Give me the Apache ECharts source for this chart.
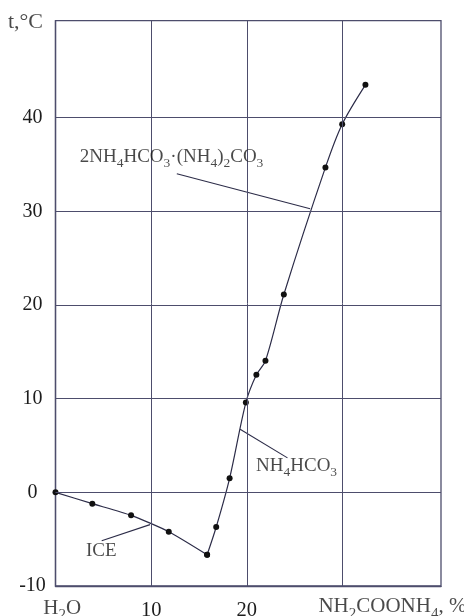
<!DOCTYPE html>
<html>
<head>
<meta charset="utf-8">
<script src="https://cdn.jsdelivr.net/npm/echarts@6/dist/echarts.min.js"></script>
<style>
  html, body { margin: 0; padding: 0; background: #fff; }
  #chart { width: 464px; height: 616px; }
</style>
</head>
<body>
<div id="chart"></div>
<script>
// Liquidus of the H2O – NH2COONH4 system: ice branch and the salt branch
const iceX  = [0, 3.85, 7.9, 11.84, 15.85];
const iceT  = [0, -1.21, -2.46, -4.2, -6.66];
const saltX = [15.85, 16.8, 18.2, 19.9, 21.0, 21.95, 23.87, 28.22, 29.97, 32.4];
const saltT = [-6.66, -3.7, 1.5, 9.58, 12.54, 14.04, 21.12, 34.69, 39.3, 43.5];

const xTicks = [10, 20];
const yTicks = [-10, 0, 10, 20, 30, 40];
const xGrid  = [10, 20, 30];
const yGrid  = [0, 10, 20, 30, 40];

const FONT = '"Liberation Serif", "Times New Roman", serif';
const TEXT = '#1c1c1c';
const GRID = '#4d4d6c';
const CURVE = '#2c2c48';

// rich styles: m/s for the in-plot notes, M/S for the axis captions
const rich = {
  m: { fontFamily: FONT, fontSize: 19, lineHeight: 19, verticalAlign: 'top', color: TEXT },
  s: { fontFamily: FONT, fontSize: 13.5, lineHeight: 13.5, verticalAlign: 'top', padding: [9, 0, 0, 0], color: TEXT },
  M: { fontFamily: FONT, fontSize: 21, lineHeight: 21, verticalAlign: 'top', color: TEXT },
  S: { fontFamily: FONT, fontSize: 15, lineHeight: 15, verticalAlign: 'top', padding: [10, 0, 0, 0], color: TEXT },
  T: { fontFamily: FONT, fontSize: 22, lineHeight: 22, verticalAlign: 'top', color: TEXT }
};

const pairs = (xs, ys) => xs.map((x, i) => [x, ys[i]]);

// text notes placed in data space (left/top of the text box)
const notes = [
  { value: [2.54, 36.8],  text: '{m|2NH}{s|4}{m|HCO}{s|3}{m|·(NH}{s|4}{m|)}{s|2}{m|CO}{s|3}' },
  { value: [20.97, 3.78], text: '{m|NH}{s|4}{m|HCO}{s|3}' },
  { value: [3.19, -5.24], text: '{m|ICE}' },
  { value: [-1.27, -11.29], text: '{M|H}{S|2}{M|O}' },
  { value: [27.49, -11.1], text: '{M|NH}{S|2}{M|COONH}{S|4}{M|, %}' },
  { value: [-4.97, 51.38], text: '{T|t,°C}' }
];

// leader lines from the labels to the curve branches
const leaders = [
  [[12.68, 34.02], [26.62, 30.28]],
  [[19.3, 6.73], [24.25, 3.68]],
  [[4.83, -5.16], [9.88, -3.45]]
];

const chart = echarts.init(document.getElementById('chart'), null, { renderer: 'canvas' });

const series = [
  {
    type: 'line',
    data: pairs(iceX, iceT),
    smooth: 0.2,
    symbol: 'circle',
    symbolSize: 6,
    itemStyle: { color: '#111' },
    lineStyle: { color: CURVE, width: 1.2 },
    z: 4,
    markLine: {
      silent: true,
      symbol: ['none', 'none'],
      label: { show: false },
      lineStyle: { color: GRID, width: 1, type: 'solid' },
      emphasis: { disabled: true },
      data: xGrid.map(v => ({ xAxis: v })).concat(yGrid.map(v => ({ yAxis: v })))
    }
  },
  {
    type: 'line',
    data: pairs(saltX, saltT),
    smooth: 0.3,
    symbol: 'circle',
    symbolSize: 6,
    itemStyle: { color: '#111' },
    lineStyle: { color: CURVE, width: 1.2 },
    z: 4
  }
].concat(leaders.map(seg => ({
  type: 'line',
  data: seg,
  showSymbol: false,
  symbol: 'none',
  lineStyle: { color: CURVE, width: 1.1 },
  z: 3
}))).concat([{
  type: 'scatter',
  clip: false,
  symbolSize: 0.1,
  itemStyle: { color: 'rgba(0,0,0,0)' },
  silent: true,
  data: notes.map(n => ({ value: n.value, label: { formatter: n.text } })),
  label: {
    show: true,
    position: [0, 0],
    align: 'left',
    verticalAlign: 'top',
    rich: rich
  },
  z: 6
}]);

chart.setOption({
  animation: false,
  backgroundColor: '#fff',
  grid: {
    left: 55.5, right: 23, top: 20.7, bottom: 30,
    show: true, borderColor: GRID, borderWidth: 1.3,
    outerBoundsMode: 'none'
  },
  xAxis: {
    type: 'value',
    min: 0, max: 40.3, interval: 10,
    axisLine: { show: true, onZero: false, lineStyle: { color: GRID, width: 1.3 } },
    axisTick: { show: false },
    splitLine: { show: false },
    axisLabel: {
      margin: 14,
      fontFamily: FONT, fontSize: 20.5, color: TEXT,
      showMaxLabel: false,
      formatter: v => (xTicks.indexOf(v) >= 0 ? String(v) : '')
    }
  },
  yAxis: {
    type: 'value',
    min: -10, max: 50.35, interval: 10,
    axisLine: { show: true, onZero: false, lineStyle: { color: GRID, width: 1.3 } },
    axisTick: { show: false },
    splitLine: { show: false },
    axisLabel: {
      margin: 23,
      align: 'center',
      fontFamily: FONT, fontSize: 20, color: TEXT,
      showMaxLabel: false,
      formatter: v => (yTicks.indexOf(v) >= 0 ? String(v) : '')
    }
  },
  series: series
});
</script>
</body>
</html>
